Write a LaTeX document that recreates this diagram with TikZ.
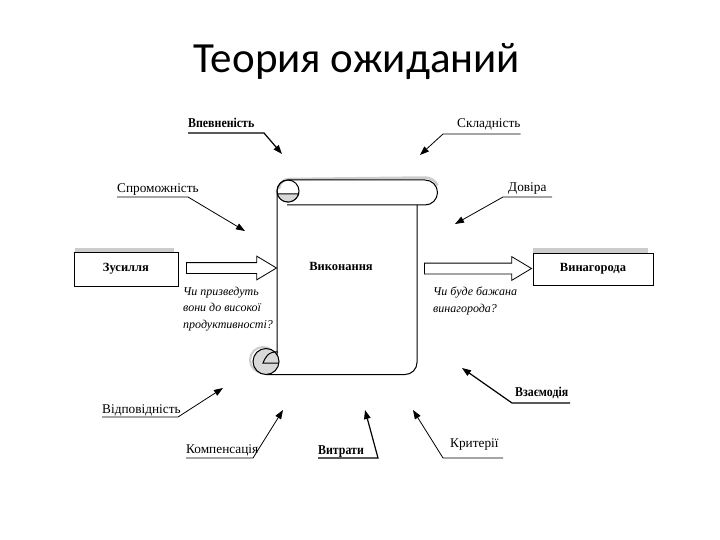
\documentclass[tikz,border=0pt]{standalone}
\usepackage{fontspec}
\usepackage{graphicx}
\setmainfont{Liberation Serif}
\newfontfamily\titlefont{Carlito}
\usetikzlibrary{arrows.meta,shapes.arrows}
\definecolor{shadowc}{gray}{0.8}
\definecolor{curlgrey}{gray}{0.85}
\begin{document}
\begin{tikzpicture}[x=1pt,y=-1pt,
  lab/.style={inner sep=0pt, font=\fontsize{13.3}{15}\selectfont},
  blab/.style={inner sep=0pt, font=\fontsize{13.5}{15}\selectfont\bfseries},
  itl/.style={inner sep=0pt, align=left, font=\fontsize{12}{16.5}\selectfont\itshape},
  lead/.style={line width=0.8pt, -{Triangle[length=9pt,width=6.5pt]}},
  leadb/.style={line width=1.2pt, -{Triangle[length=9pt,width=6.5pt]}},
  box/.style={draw, line width=1pt, fill=white, inner sep=0pt, font=\fontsize{12.5}{14}\selectfont\bfseries},
  hollow/.style={single arrow, draw, line width=0.8pt, fill=white, inner xsep=0pt, inner ysep=5pt,
     single arrow head extend=6.5pt, single arrow tip angle=62, anchor=center},
  scrollline/.style={line width=1pt},
]
\useasboundingbox (0,0) rectangle (720,540);

% title
\node[font=\titlefont\fontsize{43}{48}\selectfont, anchor=base, inner sep=0pt] (title) at (357,73) {Теория ожиданий};

% ---- scroll (Виконання) ----
% shadows
\draw[shadowc, line width=2.5pt] (279,189) arc[start angle=180,end angle=270,radius=10] -- (425,177.5) arc[start angle=-90,end angle=-25,radius=14];
\draw[shadowc, line width=2pt] (263,360) circle[radius=13];
% body
\draw[scrollline] (277,355) -- (277,191) arc[start angle=180,end angle=270,radius=11] -- (425,180)
  arc[start angle=-90,end angle=90,radius=12.5] -- (287,205);
\draw[scrollline] (288,191) circle[radius=11];
\filldraw[scrollline, fill=curlgrey] (298.6,194) arc[start angle=15.8,end angle=164.2,radius=11] -- cycle;
\draw[scrollline] (417,205) -- (417,362.5) arc[start angle=0,end angle=90,radius=12] -- (266,374.5);
\filldraw[scrollline, fill=curlgrey] (266,361.5) circle[radius=13];
\draw[scrollline] (278,352) .. controls (268,351) and (265,358) .. (263,363) -- (279,363);
\node[box, draw=none, fill=none] (vyk) at (341,266) {Виконання};

% ---- boxes ----
\fill[shadowc] (75,247.5) rectangle (174,252);
\node[box, minimum width=104, minimum height=34] (zus) at (126,269) {Зусилля};
\fill[shadowc] (533,247.5) rectangle (648,253);
\node[box, minimum width=120, minimum height=32] (vyn) at (593,269) {Винагорода};

% ---- hollow arrows ----
\node[hollow, minimum height=90] (arL) at (227,268) {};
\node[hollow, minimum height=107] (arR) at (473.5,268.5) {};

% ---- questions ----
\node[itl, anchor=north west] (q1) at (183,286.5) {Чи призведуть\\вони до високої\\продуктивності?};
\node[itl, anchor=north west] (q2) at (433,287) {Чи буде бажана\\винагорода?};

% ---- factors ----
\node[blab, anchor=base west] (vp) at (188,128) {\scalebox{0.88}[1]{Впевненість}};
\coordinate (vpU) at (264,133); \coordinate (vpT) at (282,154);
\draw[leadb] (vp.base west |- vpU) -- (vpU) -- (vpT);

\node[lab, anchor=base west] (sp) at (117,193) {Спроможність};
\coordinate (spU) at (188,197); \coordinate (spT) at (245,231);
\draw[lead] (sp.base west |- spU) -- (spU) -- (spT);

\node[lab, anchor=base west] (sk) at (457,128) {Складність};
\coordinate (skU) at (443,134); \coordinate (skT) at (420,155);
\draw[lead] (sk.base east |- skU) -- (skU) -- (skT);

\node[lab, anchor=base west] (dv) at (508,192) {Довіра};
\coordinate (dvE) at (552,197); \coordinate (dvU) at (503,197); \coordinate (dvT) at (455,224);
\draw[lead] (dvE) -- (dvU) -- (dvT);

\node[blab, anchor=base west] (vz) at (515,396) {\scalebox{0.88}[1]{Взаємодія}};
\coordinate (vzE) at (570,403); \coordinate (vzU) at (512,403); \coordinate (vzT) at (462,368);
\draw[leadb] (vzE) -- (vzU) -- (vzT);

\node[lab, anchor=base west] (kr) at (450,447) {Критерії};
\coordinate (krE) at (503,458); \coordinate (krU) at (443,458); \coordinate (krT) at (413,410);
\draw[lead] (krE) -- (krU) -- (krT);

\node[blab, anchor=base west] (vt) at (318,454) {\scalebox{0.88}[1]{Витрати}};
\coordinate (vtU) at (378,458); \coordinate (vtT) at (365,410);
\draw[leadb] (vt.base west |- vtU) -- (vtU) -- (vtT);

\node[lab, anchor=base west] (km) at (186,453) {Компенсація};
\coordinate (kmU) at (253,458); \coordinate (kmT) at (283,410);
\draw[lead] (km.base west |- kmU) -- (kmU) -- (kmT);

\node[lab, anchor=base west] (vd) at (102,413) {Відповідність};
\coordinate (vdU) at (178,417); \coordinate (vdT) at (223,388);
\draw[lead] (vd.base west |- vdU) -- (vdU) -- (vdT);
\end{tikzpicture}
\end{document}
